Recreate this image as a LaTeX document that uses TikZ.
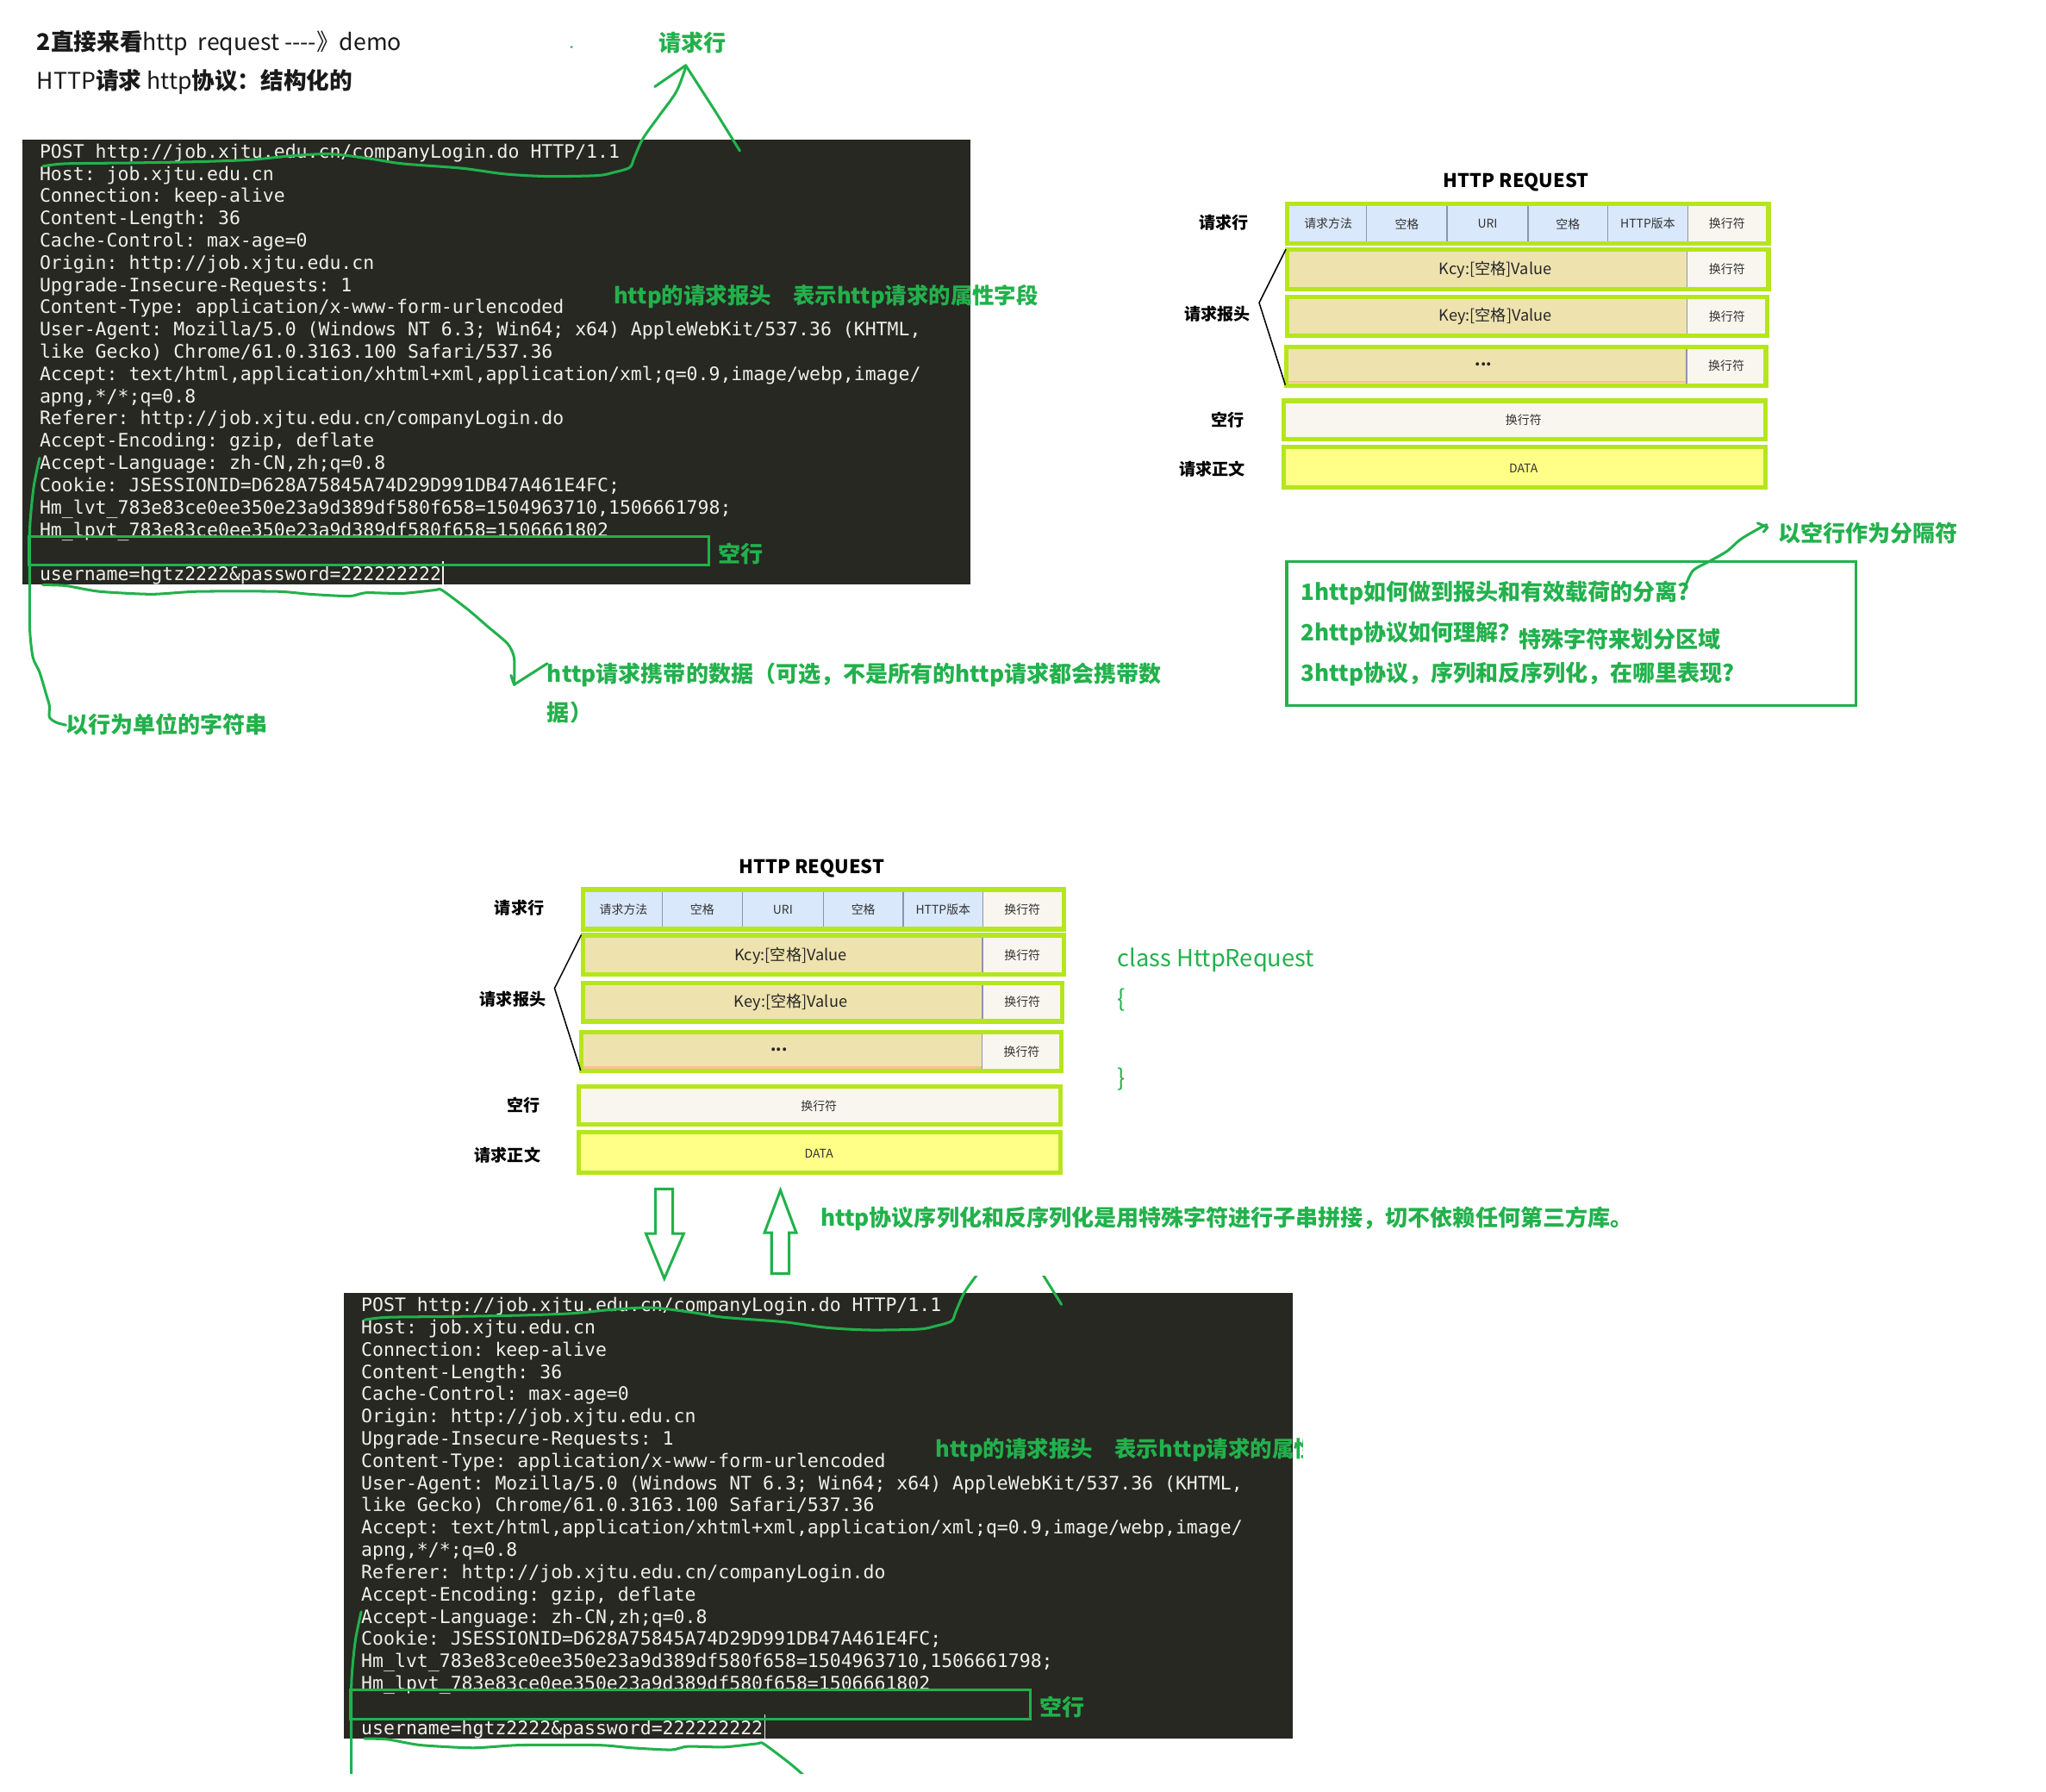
\documentclass[tikz,border=0pt]{standalone}
\usepackage{fontspec}
\setmainfont{Noto Sans CJK SC}
\setmonofont{DejaVu Sans Mono}
\definecolor{termbg}{RGB}{39,40,34}
\definecolor{termfg}{RGB}{240,240,235}
\definecolor{annogreen}{RGB}{34,177,76}
\definecolor{limeb}{RGB}{181,230,29}
\definecolor{cellblue}{RGB}{218,232,252}
\definecolor{offwhite}{RGB}{248,246,239}
\definecolor{tanc}{RGB}{238,226,175}
\definecolor{datay}{RGB}{255,255,136}
\definecolor{celltext}{RGB}{51,51,51}
\definecolor{divgray}{RGB}{140,150,175}
\definecolor{orangeline}{RGB}{244,196,140}
\tikzset{
  hand/.style={draw=annogreen, line width=1pt, line cap=round, line join=round},
  annotxt/.style={inner sep=0pt, anchor=west, text=annogreen, font=\fontsize{8.6}{10}\selectfont\bfseries},
  termtxt/.style={inner sep=0pt, anchor=base west, text=termfg, font=\ttfamily\fontsize{7.1}{8}\selectfont},
  rowlab/.style={inner sep=0pt, text=black, font=\fontsize{6.3}{7}\selectfont\bfseries},
  celltxt/.style={inner sep=0pt, text=celltext, font=\fontsize{4.6}{5}\selectfont},
  keytxt/.style={inner sep=0pt, text=black!85, font=\fontsize{6}{7}\selectfont},
  rowborder/.style={draw=limeb, line width=1.7pt},
  divline/.style={draw=divgray, line width=0.4pt},
  titletxt/.style={inner sep=0pt, anchor=west, text=black!90, font=\fontsize{8.8}{10}\selectfont},
}
\newcommand{\tline}[3]{\node[termtxt] (#1) at (30,{121+17.05*(#2-1)}) {#3};}
\newcommand{\termshot}[1]{%
  \fill[termbg] (17,107) rectangle (744,448);
  \tline{#1l1}{1}{POST http://job.xjtu.edu.cn/companyLogin.do HTTP/1.1}
  \tline{#1l2}{2}{Host: job.xjtu.edu.cn}
  \tline{#1l3}{3}{Connection: keep-alive}
  \tline{#1l4}{4}{Content-Length: 36}
  \tline{#1l5}{5}{Cache-Control: max-age=0}
  \tline{#1l6}{6}{Origin: http://job.xjtu.edu.cn}
  \tline{#1l7}{7}{Upgrade-Insecure-Requests: 1}
  \tline{#1l8}{8}{Content-Type: application/x-www-form-urlencoded}
  \tline{#1l9}{9}{User-Agent: Mozilla/5.0 (Windows NT 6.3; Win64; x64) AppleWebKit/537.36 (KHTML,}
  \tline{#1l10}{10}{like Gecko) Chrome/61.0.3163.100 Safari/537.36}
  \tline{#1l11}{11}{Accept: text/html,application/xhtml+xml,application/xml;q=0.9,image/webp,image/}
  \tline{#1l12}{12}{apng,*/*;q=0.8}
  \tline{#1l13}{13}{Referer: http://job.xjtu.edu.cn/companyLogin.do}
  \tline{#1l14}{14}{Accept-Encoding: gzip, deflate}
  \tline{#1l15}{15}{Accept-Language: zh-CN,zh;q=0.8}
  \tline{#1l16}{16}{Cookie: JSESSIONID=D628A75845A74D29D991DB47A461E4FC;}
  \tline{#1l17}{17}{Hm\_lvt\_783e83ce0ee350e23a9d389df580f658=1504963710,1506661798;}
  \tline{#1l18}{18}{Hm\_lpvt\_783e83ce0ee350e23a9d389df580f658=1506661802}
  \tline{#1l20}{20}{username=hgtz2222\&password=222222222}
  \draw[termfg!80, line width=0.4pt] (339.5,430) -- (339.5,448);
  \draw[annogreen, line width=1pt] (22,411) rectangle (543,433);
  \node[annotxt] (#1kong) at (550,424) {空行};
  \node[annotxt, font=\fontsize{8.4}{10}\selectfont\bfseries] (#1hdr) at (470,227) {http的请求报头\hspace{1em}表示http请求的属性字段};
  \draw[hand] plot[smooth,tension=0.5] coordinates {(525.5,50.1) (524.5,54.6) (518,70.8) (505.3,88.5) (492.7,106.2) (486,121) (482.6,128.3) (470,132.2) (457.3,134.5) (419.4,135.1) (386.6,133.3) (353.7,128.9) (308.2,125.4) (283,121.5) (252.7,118) (222.3,119.5) (192,122.4) (151.6,123.9) (101,124.8) (50.5,125.4) (32.8,127.4)};
  \draw[hand] (501.8,66.4) -- (525.5,50.1) -- (548,85) -- (567,115.6);
  \draw[hand] plot[smooth,tension=0.5] coordinates {(30.3,351) (26,372) (23.5,395) (22.7,413) (22.7,462.5) (23,485) (25.3,504) (30.3,515) (35.4,532) (37.9,541) (37.9,549.5) (43,553.5) (50.5,555.6)};
  \draw[hand] plot[smooth,tension=0.4] coordinates {(32.8,448.2) (50.5,448.8) (75.8,453.2) (116.2,455.3) (151.6,453.2) (212.2,453.2) (237.5,455.3) (267.8,456.8) (280.4,454.2) (308.2,454.7) (333.5,452.1) (338.6,452.1) (358.8,467.2) (373.9,480.2) (389,493.2) (394,504) (394,524.6)};
  \draw[hand] (391.6,517.5) -- (394,524.6) -- (419.4,508.4);
}
\newcommand{\reqdiagram}[1]{%
  \node[inner sep=0pt, font=\fontsize{7.2}{8}\selectfont\bfseries] (#1title) at (1162,140) {HTTP REQUEST};
  \node[rowlab] (#1lab1) at (938,170.5) {请求行};
  \node[rowlab] (#1lab2) at (933,240.5) {请求报头};
  \node[rowlab] (#1lab3) at (941,321.5) {空行};
  \node[rowlab] (#1lab4) at (929,359.5) {请求正文};
  % row 1
  \fill[cellblue] (988.4,158) rectangle (1293.3,185);
  \fill[offwhite] (1293.3,158) rectangle (1353.6,185);
  \foreach \xx in {1047.4,1109,1171,1232.2,1293.3} \draw[divline] (\xx,158) -- (\xx,185);
  \draw[rowborder] (986.7,156.3) rectangle (1355.3,186.7);
  \node[celltxt] (#1c1) at (1017.9,171.5) {请求方法};
  \node[celltxt] (#1c2) at (1078.2,171.5) {空格};
  \node[celltxt] (#1c3) at (1140,171.5) {URI};
  \node[celltxt] (#1c4) at (1201.6,171.5) {空格};
  \node[celltxt] (#1c5) at (1262.8,171.5) {HTTP版本};
  \node[celltxt] (#1c6) at (1323.5,171.5) {换行符};
  % row 2
  \fill[tanc] (988.4,193) rectangle (1293,219.9);
  \fill[offwhite] (1293,193) rectangle (1353.6,219.9);
  \draw[divline] (1293,193) -- (1293,219.9);
  \draw[rowborder] (986.7,191.3) rectangle (1355.3,221.6);
  \node[keytxt] (#1k1) at (1146,207) {Kcy:[空格]Value};
  \node[celltxt] (#1n1) at (1323.5,206.5) {换行符};
  % row 3
  \fill[tanc] (988.4,229.5) rectangle (1293,255.7);
  \fill[offwhite] (1293,229.5) rectangle (1352.6,255.7);
  \draw[divline] (1293,229.5) -- (1293,255.7);
  \draw[rowborder] (986.7,227.8) rectangle (1354.3,257.4);
  \node[keytxt] (#1k2) at (1146,242.5) {Key:[空格]Value};
  \node[celltxt] (#1n2) at (1323.5,242.5) {换行符};
  % row 4
  \fill[tanc] (987.4,267.3) rectangle (1292.5,293.8);
  \fill[offwhite] (1292.5,267.3) rectangle (1351.6,293.8);
  \draw[orangeline, line width=0.8pt] (987.4,292.6) -- (1292.5,292.6);
  \draw[divline] (1292.5,267.3) -- (1292.5,293.8);
  \draw[rowborder] (985.7,265.6) rectangle (1353.3,295.5);
  \node[keytxt, font=\fontsize{6}{7}\selectfont\bfseries] (#1k3) at (1137,279) {...};
  \node[celltxt] (#1n3) at (1323,280.5) {换行符};
  % row 5
  \fill[offwhite] (985.4,308.8) rectangle (1351.1,334.8);
  \draw[rowborder] (983.7,307.1) rectangle (1352.8,336.5);
  \node[celltxt] (#1n4) at (1167.6,322) {换行符};
  % row 6
  \fill[datay] (985.4,344.2) rectangle (1351.1,371.8);
  \draw[rowborder] (983.7,342.5) rectangle (1352.8,373.5);
  \node[celltxt] (#1data) at (1167.6,359) {DATA};
  % bracket
  \draw[black, line width=0.5pt] (985.5,191) -- (965,232) -- (985,295);
}
\begin{document}
\begin{tikzpicture}[x=0.5pt,y=-0.5pt]
\useasboundingbox (0,0) rectangle (1568,1373);
\fill[white] (0,0) rectangle (1568,1373);

% header
\node[titletxt] (title1) at (28,33) {\textbf{2直接来看}http\ \ request -{}-{}-{}-》demo};
\node[titletxt] (title2) at (28,63) {HTTP\textbf{请求} http\textbf{协议：结构化的}};
\fill[annogreen] (438,36) circle (1);
\node[annotxt, anchor=center] (reqline) at (530.5,33) {请求行};

% terminal 1
\termshot{a}
\node[annotxt] (bodylbl1) at (419,517) {http请求携带的数据（可选，不是所有的http请求都会携带数};
\node[annotxt] (bodylbl2) at (419,546) {据）};
\node[annotxt] (linelbl) at (50,555) {以行为单位的字符串};

% diagram 1
\reqdiagram{d}

% question box
\draw[annogreen, line width=1pt] (986.1,430) rectangle (1422.4,540.7);
\node[annotxt] (q1) at (996.6,454.6) {1http如何做到报头和有效载荷的分离?};
\node[annotxt] (q2) at (996.6,485.5) {2http协议如何理解？};
\node[annotxt] (q2b) at (1163.7,489.9) {特殊字符来划分区域};
\node[annotxt] (q3) at (996.6,516.3) {3http协议，序列和反序列化，在哪里表现?};
\node[annotxt] (sep) at (1362.6,408.4) {以空行作为分隔符};
\draw[hand] plot[smooth,tension=0.5] coordinates {(1292.5,447) (1297.7,437) (1311,429.6) (1324,422) (1334,413.2) (1349,404.4) (1354,402)};
\draw[hand] (1347,400.8) -- (1354.5,404.1) -- (1351.5,407.6);

% diagram 2
\begin{scope}[shift={(-540,525.3)}]
\reqdiagram{e}
\end{scope}
\node[annotxt, font=\fontsize{9}{10}\selectfont] (cls) at (856,735.4) {class HttpRequest};
\node[annotxt, font=\fontsize{9}{10}\selectfont] (brO) at (856,766) {\{};
\node[annotxt, font=\fontsize{9}{10}\selectfont] (brC) at (856,826.7) {\}};

% block arrows
\draw[annogreen, line width=1pt, line join=miter] (502.4,911) -- (515.6,911) -- (515.6,945.2) -- (524,945.2) -- (509.1,979.7) -- (495,945.2) -- (502.4,945.2) -- cycle;
\draw[annogreen, line width=1pt, line join=miter] (598.1,912) -- (610.2,944.5) -- (604.8,944.5) -- (604.8,976) -- (591.3,976) -- (591.3,944.5) -- (585.9,944.5) -- cycle;
\node[annotxt] (serial) at (628.4,933.5) {http协议序列化和反序列化是用特殊字符进行子串拼接，切不依赖任何第三方库。};

% terminal 2 (cropped copy)
\begin{scope}[shift={(246.5,884)}]
\clip (13.5,94) rectangle (751.5,474.6);
\termshot{b}
\end{scope}
\end{tikzpicture}
\end{document}
